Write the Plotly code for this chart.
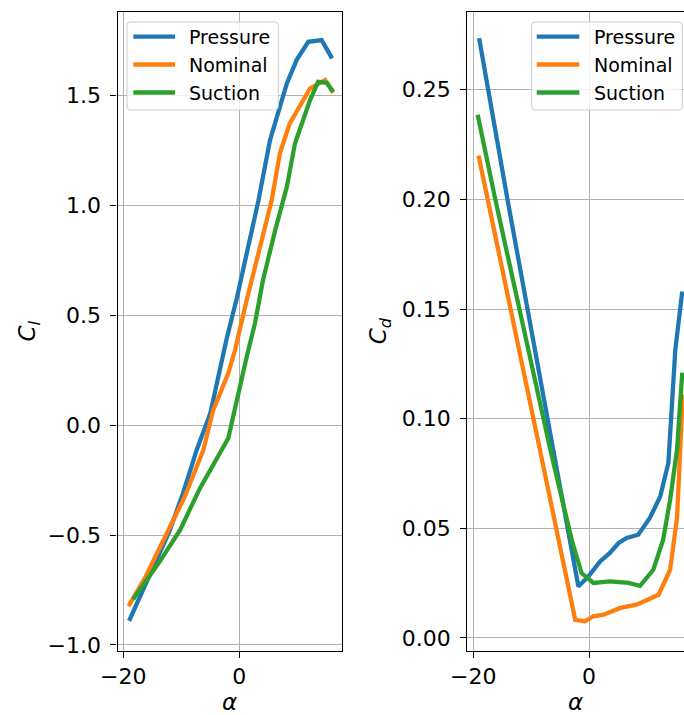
import plotly.graph_objects as go

# ---------------- data ----------------
names = ["Pressure", "Nominal", "Suction"]
colors = ["#1f77b4", "#ff7f0e", "#2ca02c"]

# Lift coefficient
alpha_cl_pressure = [-19.0, -12.0, -9.7, -7.3, -5.0, -2.2, -0.4, 1.3, 3.3, 5.3, 8.2, 9.9, 11.9, 14.2, 16.0]
cl_pressure = [-0.89, -0.48, -0.31, -0.11, 0.053, 0.39, 0.58, 0.78, 1.02, 1.295, 1.553, 1.66, 1.742, 1.75, 1.667]

alpha_cl_nominal = [-19.1, -16.3, -14.5, -12.2, -9.4, -6.2, -4.5, -1.9, -0.74, 1.28, 3.6, 5.6, 7.0, 8.7, 12.2, 14.8, 16.2]
cl_nominal = [-0.823, -0.697, -0.60, -0.477, -0.326, -0.114, 0.068, 0.235, 0.34, 0.568, 0.81, 1.023, 1.235, 1.371, 1.53, 1.568, 1.51]

alpha_cl_suction = [-18.3, -16.0, -13.7, -10.2, -6.8, -1.9, -0.45, 1.28, 2.7, 4.1, 6.2, 8.2, 9.6, 12.2, 13.6, 15.1, 16.2]
cl_suction = [-0.792, -0.705, -0.62, -0.477, -0.288, -0.06, 0.114, 0.31, 0.462, 0.66, 0.886, 1.083, 1.28, 1.477, 1.56, 1.556, 1.515]

# Drag coefficient
alpha_cd_pressure = [-19.0, -14.1, -6.2, -1.85, -0.1, 1.9, 3.6, 5.1, 6.5, 8.5, 10.5, 12.3, 13.7, 14.9, 16.1]
cd_pressure = [0.2736, 0.20, 0.0859, 0.0235, 0.0281, 0.0349, 0.0388, 0.0433, 0.0456, 0.0471, 0.0547, 0.0646, 0.0798, 0.1315, 0.158]

alpha_cd_nominal = [-19.1, -17.5, -8.5, -2.4, -0.7, 0.75, 2.5, 5.4, 8.2, 12.0, 14.0, 15.2, 15.7, 16.2]
cd_nominal = [0.220, 0.20, 0.0859, 0.0083, 0.0076, 0.0099, 0.0106, 0.0137, 0.0152, 0.0197, 0.031, 0.055, 0.0859, 0.111]

alpha_cd_suction = [-19.25, -16.2, -6.7, -3.0, -1.3, 0.75, 3.6, 6.8, 8.8, 11.1, 12.8, 14.0, 15.2, 16.1]
cd_suction = [0.2386, 0.20, 0.0859, 0.0448, 0.0296, 0.0251, 0.0258, 0.0251, 0.0238, 0.0311, 0.0448, 0.063, 0.0859, 0.121]

cl_ticks = [-1.0, -0.5, 0.0, 0.5, 1.0, 1.5]
alpha_ticks = [-20, 0]

# ---------------- layout constants ----------------
W, H = 684, 715
FONT = "DejaVu Sans"
LW = 4.3

fig = go.Figure()

cl_x = [alpha_cl_pressure, alpha_cl_nominal, alpha_cl_suction]
cl_y = [cl_pressure, cl_nominal, cl_suction]
cd_x = [alpha_cd_pressure, alpha_cd_nominal, alpha_cd_suction]
cd_y = [cd_pressure, cd_nominal, cd_suction]

for i in range(3):
    fig.add_trace(go.Scatter(x=cl_x[i], y=cl_y[i], mode="lines", name=names[i],
                             line=dict(color=colors[i], width=LW), xaxis="x", yaxis="y",
                             showlegend=False))
for i in range(3):
    fig.add_trace(go.Scatter(x=cd_x[i], y=cd_y[i], mode="lines", name=names[i],
                             line=dict(color=colors[i], width=LW), xaxis="x2", yaxis="y2",
                             showlegend=False))

ydom = [64.3 / H, 703.3 / H]
axcommon = dict(showgrid=True, gridcolor="#b0b0b0", gridwidth=1, zeroline=False,
                showline=True, linecolor="black", linewidth=1.3,
                ticks="outside", ticklen=6, tickwidth=1.3, tickcolor="black",
                tickfont=dict(family=FONT, size=22, color="black"))

fig.update_layout(
    width=W, height=H, template="none",
    margin=dict(l=0, r=0, t=0, b=0),
    paper_bgcolor="white", plot_bgcolor="white",
    font=dict(family=FONT, color="black"),
    xaxis=dict(domain=[117.5 / W, 341.7 / W], range=[-21.0, 17.66], tickvals=alpha_ticks,
               mirror=True, anchor="y",
               title=dict(text="<i>α</i>", font=dict(family=FONT, size=23), standoff=7),
               **axcommon),
    yaxis=dict(domain=ydom, range=[-1.026, 1.879], tickvals=cl_ticks, tickformat=".1f",
               mirror=True, anchor="x", ticklabelstandoff=5,
               title=dict(text="<i>C</i><sub><i>l</i></sub>", font=dict(family=FONT, size=23), standoff=5),
               **axcommon),
    xaxis2=dict(domain=[467.3 / W, 1.0], range=[-21.04, 16.4], tickvals=alpha_ticks,
                mirror=True, anchor="y2",
                title=dict(text="<i>α</i>", font=dict(family=FONT, size=23), standoff=7),
                **axcommon),
    yaxis2=dict(domain=ydom, range=[-0.0058, 0.2856], dtick=0.05, tick0=0, tickformat=".2f",
                mirror=False, anchor="x2", ticklabelstandoff=5,
                title=dict(text="<i>C</i><sub><i>d</i></sub>", font=dict(family=FONT, size=23), standoff=8),
                **axcommon),
)

# ---------------- custom legends (matplotlib style) ----------------
def px2paper(x, y):
    return x / W, 1 - y / H

def rounded_rect(x0, y0, x1, y1, r=4):
    def P(x, y):
        a, b = px2paper(x, y)
        return f"{a:.5f},{b:.5f}"
    return (f"M{P(x0 + r, y0)} L{P(x1 - r, y0)} Q{P(x1, y0)} {P(x1, y0 + r)} "
            f"L{P(x1, y1 - r)} Q{P(x1, y1)} {P(x1 - r, y1)} L{P(x0 + r, y1)} "
            f"Q{P(x0, y1)} {P(x0, y1 - r)} L{P(x0, y0 + r)} Q{P(x0, y0)} {P(x0 + r, y0)} Z")

legends = [
    dict(box=(127, 22, 278.3, 110), line=(133.3, 175.0), text_x=188.3),
    dict(box=(531.7, 22, 682.3, 110), line=(536.7, 579.3), text_x=592.7),
]
row_y = [36.7, 64.5, 92.5]

for lg in legends:
    x0, y0, x1, y1 = lg["box"]
    fig.add_shape(type="path", path=rounded_rect(x0, y0, x1, y1), xref="paper", yref="paper",
                  line=dict(color="#cccccc", width=1), fillcolor="rgba(255,255,255,0.8)", layer="above")
    for i, nm in enumerate(names):
        lx0, lx1 = lg["line"]
        a0, b = px2paper(lx0, row_y[i])
        a1, _ = px2paper(lx1, row_y[i])
        fig.add_shape(type="line", x0=a0, x1=a1, y0=b, y1=b, xref="paper", yref="paper",
                      line=dict(color=colors[i], width=LW), layer="above")
        tx, _ = px2paper(lg["text_x"], row_y[i])
        fig.add_annotation(x=tx, y=b, xref="paper", yref="paper", text=nm, showarrow=False,
                           xanchor="left", yanchor="middle", borderpad=0,
                           font=dict(family=FONT, size=19, color="black"))

fig.write_html("out.html")
